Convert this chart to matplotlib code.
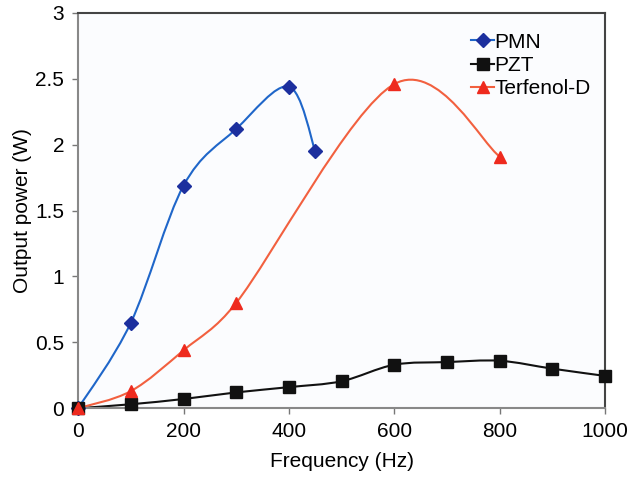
import numpy as np
import matplotlib
matplotlib.use("Agg")
import matplotlib.pyplot as plt
from matplotlib.path import Path
from matplotlib.patches import PathPatch
from matplotlib.lines import Line2D

plt.rcParams['font.family'] = ['Liberation Sans', 'DejaVu Sans']

pmn_f = [0, 100, 200, 300, 400, 450]
pmn_p = [0, 0.65, 1.69, 2.12, 2.44, 1.95]

pzt_f = [0, 100, 200, 300, 400, 500, 600, 700, 800, 900, 1000]
pzt_p = [0, 0.03, 0.07, 0.12, 0.16, 0.205, 0.33, 0.35, 0.36, 0.30, 0.245]

ter_f = [0, 100, 200, 300, 600, 800]
ter_p = [0, 0.13, 0.44, 0.80, 2.46, 1.91]

x_ticks = [0, 200, 400, 600, 800, 1000]
y_ticks = [0, 0.5, 1, 1.5, 2, 2.5, 3]
y_labels = ['0', '0.5', '1', '1.5', '2', '2.5', '3']


def smooth_path(ax, xs, ys):
    # excel-like smoothed line: catmull-rom bezier in pixel space,
    # control arm capped at half the segment length
    pts = ax.transData.transform(np.column_stack([xs, ys]).astype(float))
    n = len(pts)
    verts = [pts[0]]
    codes = [Path.MOVETO]
    for i in range(n - 1):
        p0 = pts[i - 1] if i > 0 else pts[i]
        p1 = pts[i]
        p2 = pts[i + 1]
        p3 = pts[i + 2] if i + 2 < n else pts[i + 1]
        half = np.hypot(*(p2 - p1)) / 2
        arms = []
        for t in (p2 - p0, p3 - p1):
            a = t / 6
            la = np.hypot(*a)
            if la > half:
                a = a * half / la
            arms.append(a)
        verts += [p1 + arms[0], p2 - arms[1], p2]
        codes += [Path.CURVE4] * 3
    verts = ax.transData.inverted().transform(np.array(verts))
    return Path(verts, codes)


fig = plt.figure(figsize=(6.41, 4.78), dpi=100)
ax = fig.add_axes([0.122, 0.146, 0.822, 0.827])
ax.set_facecolor('#fbfcfe')
ax.set_xlim(0, 1000)
ax.set_ylim(0, 3)

series = [
    (pmn_f, pmn_p, '#1f66c9', '#1c2f9e', 'D', 7, 'PMN'),
    (pzt_f, pzt_p, '#111111', '#111111', 's', 9, 'PZT'),
    (ter_f, ter_p, '#f2603f', '#ee2a1e', '^', 9, 'Terfenol-D'),
]
handles = []
for xs, ys, lc, mc, mk, ms, lab in series:
    ax.add_patch(PathPatch(smooth_path(ax, xs, ys), facecolor='none', edgecolor=lc,
                           lw=1.5, zorder=2))
    ax.plot(xs, ys, ls='none', marker=mk, ms=ms, color=mc, zorder=3, clip_on=False)
    handles.append(Line2D([], [], color=lc, lw=1.5, marker=mk, ms=ms,
                          markerfacecolor=mc, markeredgecolor=mc, label=lab))

ax.set_xticks(x_ticks)
ax.set_yticks(y_ticks)
ax.set_yticklabels(y_labels)
ax.tick_params(labelsize=15, length=4, width=1, color='#777777', pad=6)
for s in ['left', 'bottom']:
    ax.spines[s].set_color('#888888')
    ax.spines[s].set_linewidth(1.5)
for s in ['top', 'right']:
    ax.spines[s].set_color('#444444')
    ax.spines[s].set_linewidth(1.5)

ax.set_xlabel('Frequency (Hz)', fontsize=15, labelpad=8)
ax.set_ylabel('Output power (W)', fontsize=15, labelpad=2)

ax.legend(handles=handles, loc='upper right', bbox_to_anchor=(1.0, 0.987),
          frameon=False, fontsize=15, handlelength=1.1, handletextpad=0.0,
          labelspacing=0.2, borderpad=0.2)

fig.savefig('out.png', dpi=100)
